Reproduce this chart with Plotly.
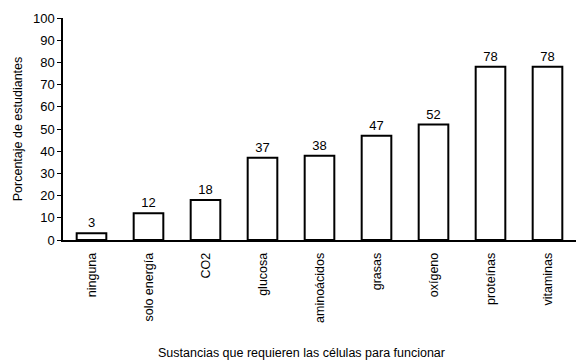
import plotly.graph_objects as go

categorias = ["ninguna", "solo energía", "CO2", "glucosa", "aminoácidos",
              "grasas", "oxígeno", "proteínas", "vitaminas"]
porcentajes = [3, 12, 18, 37, 38, 47, 52, 78, 78]
y_ticks = [0, 10, 20, 30, 40, 50, 60, 70, 80, 90, 100]

fig = go.Figure(go.Bar(
    x=categorias,
    y=porcentajes,
    text=[str(v) for v in porcentajes],
    textposition="outside",
    textfont=dict(size=13, color="black", family="Liberation Sans, Arial"),
    cliponaxis=False,
    marker=dict(color="white", line=dict(color="black", width=2)),
    width=0.52,
))

fig.update_layout(
    width=578, height=361,
    margin=dict(l=63, r=2, t=18, b=121),
    paper_bgcolor="white", plot_bgcolor="white",
    font=dict(family="Liberation Sans, Arial", color="black", size=12),
    showlegend=False,
)
fig.update_xaxes(
    range=[-0.5, 8.5],
    tickangle=-90,
    tickfont=dict(size=12.5),
    ticklabelstandoff=6,
    showline=True, linecolor="black", linewidth=1.5,
    ticks="", showgrid=False, automargin=False,
)
fig.update_yaxes(
    range=[0, 100],
    tickvals=y_ticks,
    tickfont=dict(size=13),
    showline=True, linecolor="black", linewidth=1.5,
    ticks="outside", ticklen=4, tickcolor="black",
    showgrid=False, zeroline=False, automargin=False,
    title=dict(text="Porcentaje de estudiantes", font=dict(size=12.5), standoff=8),
)

# x-axis title placed below the rotated category labels
fig.add_annotation(
    text="Sustancias que requieren las células para funcionar",
    xref="paper", yref="paper", x=0.464, y=-0.51,
    xanchor="center", yanchor="middle", showarrow=False,
    font=dict(size=12.5),
)

fig.write_html("out.html")
